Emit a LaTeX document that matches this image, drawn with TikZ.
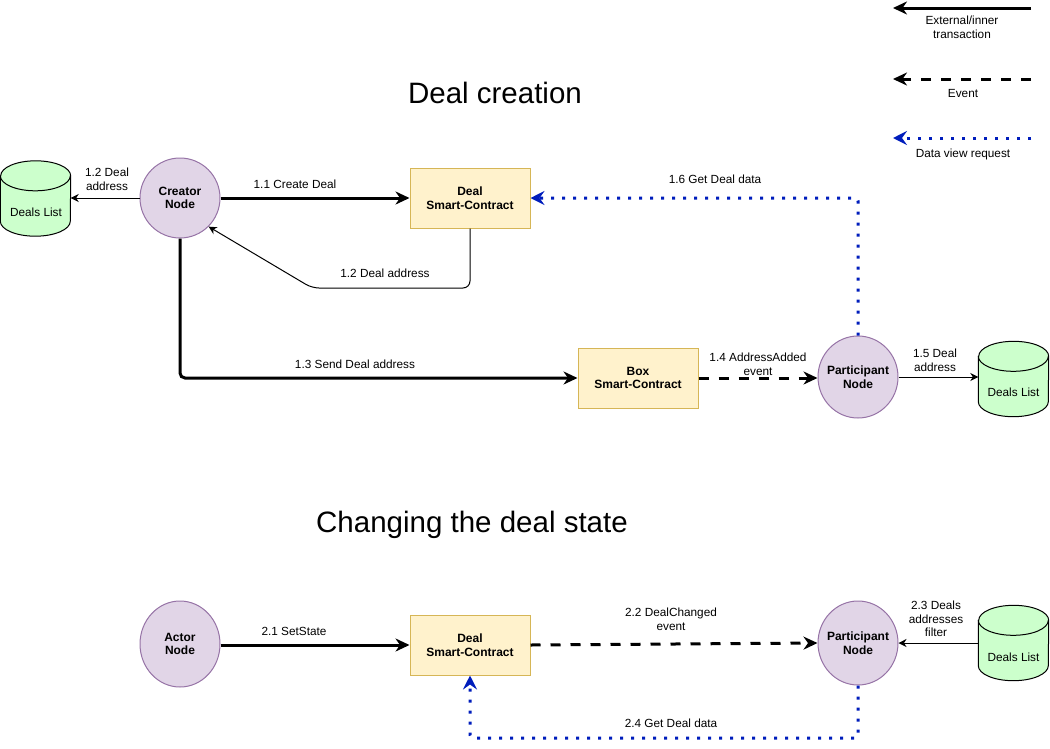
\documentclass[tikz,border=0pt]{standalone}
\usepackage{fontspec}
\setmainfont{Liberation Sans}
\usetikzlibrary{arrows.meta,shapes.geometric}
\definecolor{purfill}{HTML}{E1D5E7}
\definecolor{purline}{HTML}{9673A6}
\definecolor{yelfill}{HTML}{FFF2CC}
\definecolor{yelline}{HTML}{D6B656}
\definecolor{grnfill}{HTML}{CCFFCC}
\definecolor{dblue}{HTML}{001DBC}
\newcommand{\dbcyl}[1]{%
  \draw[line width=1pt, fill=grnfill] ([yshift=-15pt]#1.north west) -- ([yshift=15pt]#1.south west)
    arc[start angle=180,end angle=360,x radius=35pt,y radius=15pt]
    -- ([yshift=-15pt]#1.north east)
    arc[start angle=0,end angle=180,x radius=35pt,y radius=15pt] -- cycle;
  \draw[line width=1pt] ([yshift=-15pt]#1.north west)
    arc[start angle=180,end angle=360,x radius=35pt,y radius=15pt];
}
\tikzset{
  smallfont/.style={font=\fontsize{11.8}{13.6}\selectfont},
  boldfont/.style={font=\bfseries\fontsize{12}{13.6}\selectfont},
  procnode/.style={ellipse, draw=purline, fill=purfill, line width=1pt,
    minimum width=80pt, minimum height=80pt, inner sep=0pt},
  nodetext/.style={boldfont, align=center, inner sep=0pt},
  contract/.style={rectangle, draw=yelline, fill=yelfill, line width=1pt,
    minimum width=120pt, minimum height=60pt, inner sep=0pt, align=center, boldfont},
  dbnode/.style={rectangle, minimum width=70pt, minimum height=75pt, inner sep=0pt},
  dbtext/.style={smallfont, inner sep=0pt},
  lbl/.style={smallfont, align=center, inner sep=0pt},
  titletext/.style={font=\fontsize{29.5}{34}\selectfont, inner sep=0pt, anchor=base},
  txarrow/.style={line width=3pt, -{Stealth[length=14pt,width=13pt,inset=4.5pt]}},
  evarrow/.style={line width=3pt, dash pattern=on 10pt off 10pt, -{Stealth[length=14pt,width=13pt,inset=4.5pt]}},
  viewarrow/.style={line width=3pt, draw=dblue, dash pattern=on 3pt off 8pt,
    -{Stealth[length=14pt,width=14pt,inset=5pt,fill=dblue]}},
  thinarrow/.style={line width=1pt, -{Stealth[length=8pt,width=8pt,inset=2.5pt]}},
}
\begin{document}
\begin{tikzpicture}[x=1pt,y=-1pt]
\useasboundingbox (0,0) rectangle (1050,748);

% legend
\coordinate (lg1s) at (1031,8);   \coordinate (lg1e) at (893,8);
\coordinate (lg2s) at (1031,79);  \coordinate (lg2e) at (893,79);
\coordinate (lg3s) at (1031,138); \coordinate (lg3e) at (893,138);
\draw[txarrow] (lg1s) -- (lg1e);
\draw[evarrow] (lg2s) -- (lg2e);
\draw[viewarrow] (lg3s) -- (lg3e);
\node[lbl] (lgt1) at (962,27) {External/inner\\transaction};
\node[lbl] (lgt2) at (963,93) {Event};
\node[lbl] (lgt3) at (963,154) {Data view request};

% titles
\node[titletext] (title1) at (495,103) {Deal creation};
\node[titletext] (title2) at (472,532) {Changing the deal state};

% ---- Deal creation ----
\node[dbnode] (dl1) at (35.5,198.5) {};
\dbcyl{dl1}
\node[dbtext] (dl1t) at (36,212) {Deals List};

\node[procnode, minimum height=80pt] (creator) at (180,198) {};
\node[nodetext] (creatort) at (creator.center) {Creator\\Node};

\node[contract] (deal1) at (470,198) {Deal\\Smart-Contract};
\node[contract] (box) at (638,378) {Box\\Smart-Contract};

\node[procnode, minimum height=82pt] (part1) at (858,377) {};
\node[nodetext] (part1t) at (part1.center) {Participant\\Node};

\node[dbnode] (dl2) at (1013.5,379) {};
\dbcyl{dl2}
\node[dbtext] (dl2t) at (1013.5,392) {Deals List};

% connectors
\draw[txarrow] (creator.east) -- (creator.east -| deal1.west);
\draw[thinarrow] (creator.west) -- (creator.west -| dl1.east);

\coordinate (r1) at (312,288);
\coordinate (r0) at (deal1.south |- r1);
\draw[thinarrow, rounded corners=7pt] (deal1.south) -- (r0) -- (r1) -- (creator.south east);

\draw[txarrow, rounded corners=5pt] (creator.south) |- (box.west);
\draw[evarrow] (box.east) -- (box.east -| part1.west);
\draw[thinarrow] (part1.east) -- (part1.east -| dl2.west);
\draw[viewarrow, rounded corners=3pt] (part1.north) |- (deal1.east);

\node[lbl] (l12a) at (107,179) {1.2 Deal\\address};
\node[lbl] (l11) at (295,184) {1.1 Create Deal};
\node[lbl] (l12b) at (385,273) {1.2 Deal address};
\node[lbl] (l13) at (355,364) {1.3 Send Deal address};
\node[lbl] (l14) at (758,364) {1.4 AddressAdded\\event};
\node[lbl] (l15) at (935,360) {1.5 Deal\\address};
\node[lbl] (l16) at (715,179) {1.6 Get Deal data};

% ---- Changing the deal state ----
\node[procnode, minimum height=86pt] (actor) at (180,644) {};
\node[nodetext] (actort) at (actor.center) {Actor\\Node};

\node[contract] (deal2) at (470,645) {Deal\\Smart-Contract};

\node[procnode, minimum height=84pt] (part2) at (858,643) {};
\node[nodetext] (part2t) at (part2.center) {Participant\\Node};

\node[dbnode] (dl3) at (1013.5,643) {};
\dbcyl{dl3}
\node[dbtext] (dl3t) at (1013.5,657) {Deals List};

\draw[txarrow] (deal2.west -| actor.east) -- (deal2.west);
\draw[evarrow] (deal2.east) -- (part2.west);
\draw[thinarrow] (dl3.west |- part2.east) -- (part2.east);
\coordinate (bot) at (470,738);
\draw[viewarrow, rounded corners=3pt] (part2.south) |- (bot) -- (deal2.south);

\node[lbl] (l21) at (294,631) {2.1 SetState};
\node[lbl] (l22) at (671,619) {2.2 DealChanged\\event};
\node[lbl] (l23) at (936,619) {2.3 Deals\\addresses\\filter};
\node[lbl] (l24) at (671,723) {2.4 Get Deal data};
\end{tikzpicture}
\end{document}
